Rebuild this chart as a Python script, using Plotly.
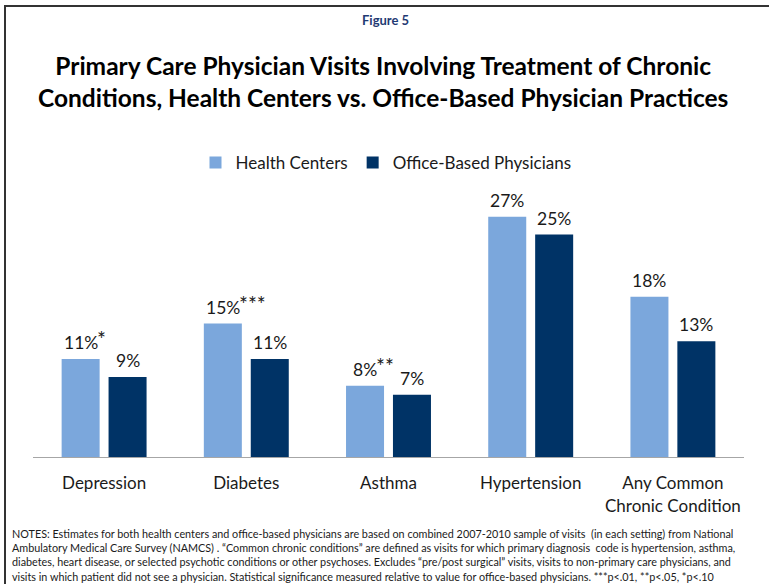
import plotly.graph_objects as go

categories = ["Depression", "Diabetes", "Asthma", "Hypertension", "Any Common<br>Chronic Condition"]
health_centers = [11, 15, 8, 27, 18]
office_based = [9, 11, 7, 25, 13]
hc_stars = ["*", "***", "**", "", ""]
series_names = ["Health Centers", "Office-Based Physicians"]
notes_lines = [
    "NOTES: Estimates for both health centers and office-based physicians are based on combined 2007-2010 sample of visits  (in each setting) from National",
    "Ambulatory Medical Care Survey (NAMCS) . \u201cCommon chronic conditions\u201d are defined as visits for which primary diagnosis  code is hypertension, asthma,",
    "diabetes, heart disease, or selected psychotic conditions or other psychoses. Excludes \u201cpre/post surgical\u201d visits, visits to non-primary care physicians, and",
    "visits in which patient did not see a physician. Statistical significance measured relative to value for office-based physicians. ***p<.01, **p<.05, *p<.10",
]

FONT = "Lato"
HC_COLOR = "#7BA7DC"
OB_COLOR = "#003366"
PLOT_TOP, PLOT_BOTTOM, PLOT_H = 190, 457, 267
PLOT_L, PLOT_W = 33, 711


def py(px):
    return 1.0 - (px - PLOT_TOP) / PLOT_H


def pxx(px):
    return (px - PLOT_L) / PLOT_W


def label_width(s, size=17.5):
    # approximate rendered width of a percent label in Lato
    w = 0.0
    for ch in s:
        w += 0.58 * size if ch.isdigit() else 0.78 * size
    return w


fig = go.Figure()
fig.add_trace(go.Bar(x=categories, y=health_centers, name=series_names[0],
                     marker=dict(color=HC_COLOR, line=dict(width=0))))
fig.add_trace(go.Bar(x=categories, y=office_based, name=series_names[1],
                     marker=dict(color=OB_COLOR, line=dict(width=0))))

annotations = []
LABEL_FONT = dict(size=17.5, color="#1a1a1a", family=FONT)
STAR_FONT = dict(size=21, color="#1a1a1a", family=FONT)
for i, cat in enumerate(categories):
    hc_txt = f"{health_centers[i]}%"
    annotations.append(dict(x=cat, y=health_centers[i], text=hc_txt, showarrow=False,
                            xanchor="center", yanchor="bottom", xshift=-23.5,
                            yshift=4, font=LABEL_FONT))
    if hc_stars[i]:
        annotations.append(dict(x=cat, y=health_centers[i], text=hc_stars[i], showarrow=False,
                                xanchor="left", yanchor="bottom",
                                xshift=-23.5 + label_width(hc_txt) / 2 - 3,
                                yshift=6, font=STAR_FONT))
    annotations.append(dict(x=cat, y=office_based[i], text=f"{office_based[i]}%", showarrow=False,
                            xanchor="center", yanchor="bottom", xshift=23.5, yshift=4,
                            font=LABEL_FONT))

annotations.append(dict(xref="paper", yref="paper", x=pxx(385), y=py(20),
                        text="<b>Figure 5</b>", showarrow=False, xanchor="center", yanchor="middle",
                        font=dict(size=13, color="#1F3A73", family=FONT)))
annotations.append(dict(xref="paper", yref="paper", x=pxx(383), y=py(82),
                        text="<b>Primary Care Physician Visits Involving Treatment of Chronic<br>"
                             "Conditions, Health Centers vs. Office-Based Physician Practices</b>",
                        showarrow=False, xanchor="center", yanchor="middle",
                        font=dict(size=24.5, color="#000000", family=FONT)))
for k, line in enumerate(notes_lines):
    annotations.append(dict(xref="paper", yref="paper", x=pxx(10), y=py(533 + 14.4 * k),
                            text=line, showarrow=False, xanchor="left", yanchor="middle", align="left",
                            font=dict(size=10.8, color="#1a1a1a", family=FONT)))

fig.update_layout(
    width=769, height=584,
    margin=dict(l=PLOT_L, r=769 - PLOT_L - PLOT_W, t=PLOT_TOP, b=584 - PLOT_BOTTOM, autoexpand=False),
    paper_bgcolor="white", plot_bgcolor="white",
    barmode="group", bargap=0.34, bargroupgap=0.19,
    font=dict(family=FONT, size=17, color="#1a1a1a"),
    showlegend=True,
    legend=dict(orientation="h", x=pxx(386), xanchor="center", y=py(163), yanchor="middle",
                font=dict(size=17, family=FONT, color="#1a1a1a"), itemwidth=30,
                bgcolor="rgba(0,0,0,0)"),
    xaxis=dict(showline=True, linecolor="#A6A6A6", linewidth=1, ticks="", showgrid=False,
               automargin=False, ticklabelstandoff=11,
               tickfont=dict(size=17, family=FONT, color="#1a1a1a")),
    yaxis=dict(range=[0, 30], visible=False, showgrid=False, zeroline=False, automargin=False),
    annotations=annotations,
    shapes=[dict(type="rect", xref="paper", yref="paper",
                 x0=pxx(5), x1=pxx(800), y0=py(620), y1=py(6),
                 line=dict(color="#333333", width=2), fillcolor="rgba(0,0,0,0)")],
)

fig.write_html("out.html", config={"displayModeBar": False},
               post_script="document.body.style.margin='0';document.body.style.padding='0';")
